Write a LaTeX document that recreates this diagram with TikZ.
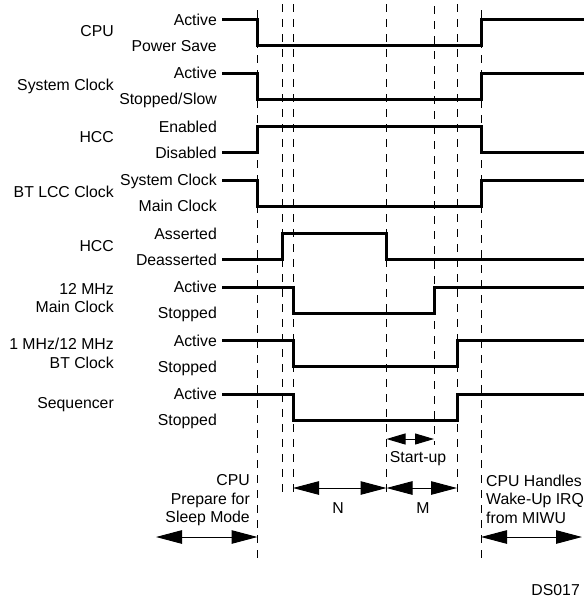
\documentclass[tikz,border=0pt]{standalone}
\usepackage{fontspec}
\setmainfont{Liberation Sans}
\usetikzlibrary{arrows.meta}

\begin{document}
\begin{tikzpicture}[x=1pt, y=-1pt,
    font=\fontsize{15.8}{18.5}\selectfont,
    sig/.style={line width=3pt, line join=miter},
    guide/.style={line width=0.9pt, dash pattern=on 8pt off 7pt},
    lab/.style={inner sep=0pt, text height=11.3pt, text depth=0pt},
    sname/.style={lab, anchor=east},
    level/.style={lab, anchor=east, inner xsep=5pt},
    note/.style={inner sep=0pt},
    span/.style={{Triangle[length=26pt,width=13.5pt]}-{Triangle[length=26pt,width=13.5pt]}, line width=1pt},
    short span/.style={{Triangle[length=19pt,width=11pt]}-{Triangle[length=19pt,width=11pt]}, line width=1pt}]
    \useasboundingbox (0,0) rectangle (584,598);

    % Zeitpunkte
    \coordinate (t1) at (257.5,0);
    \coordinate (t2) at (282,0);
    \coordinate (t3) at (293,0);
    \coordinate (t4) at (386.5,0);
    \coordinate (t5) at (434,0);
    \coordinate (t6) at (457,0);
    \coordinate (t7) at (481,0);
    \coordinate (edge) at (590,0);

    % gestrichelte Hilfslinien
    \foreach \t/\a/\b in {t1/10/560, t2/4/494, t3/4/494, t4/4/494, t5/6/445, t6/4/494, t7/10/560}
        \draw[guide] (\t |- 0,\a) -- (\t |- 0,\b);

    % CPU
    \node[sname] (cpu) at (114,31) {CPU};
    \node[level] (cpuA) at (222,19.5) {Active};
    \node[level] (cpuP) at (222,45.5) {Power Save};
    \draw[sig] (cpuA.east) -| (t1 |- cpuP.east) -| (t7 |- cpuA.east) -- (edge |- cpuA.east);

    % System Clock
    \node[sname] (sys) at (114,85) {System Clock};
    \node[level] (sysA) at (222,73) {Active};
    \node[level] (sysS) at (222,99) {Stopped/Slow};
    \draw[sig] (sysA.east) -| (t1 |- sysS.east) -| (t7 |- sysA.east) -- (edge |- sysA.east);

    % HCC
    \node[sname] (hcc) at (114,137) {HCC};
    \node[level] (hccE) at (222,126.5) {Enabled};
    \node[level] (hccD) at (222,152.5) {Disabled};
    \draw[sig] (hccD.east) -| (t1 |- hccE.east) -| (t7 |- hccD.east) -- (edge |- hccD.east);

    % BT LCC Clock
    \node[sname] (lcc) at (114,191.5) {BT LCC Clock};
    \node[level] (lccS) at (222,180) {System Clock};
    \node[level] (lccM) at (222,206) {Main Clock};
    \draw[sig] (lccS.east) -| (t1 |- lccM.east) -| (t7 |- lccS.east) -- (edge |- lccS.east);

    % HCC (Asserted)
    \node[sname] (hcc2) at (114,245.5) {HCC};
    \node[level] (hcc2A) at (222,233.5) {Asserted};
    \node[level] (hcc2D) at (222,259.5) {Deasserted};
    \draw[sig] (hcc2D.east) -| (t2 |- hcc2A.east) -| (t4 |- hcc2D.east) -- (edge |- hcc2D.east);

    % 12 MHz Main Clock
    \node[note, anchor=east, align=right] (main) at (114,298) {12 MHz\\Main Clock};
    \node[level] (mainA) at (222,287) {Active};
    \node[level] (mainS) at (222,313) {Stopped};
    \draw[sig] (mainA.east) -| (t3 |- mainS.east) -| (t5 |- mainA.east) -- (edge |- mainA.east);

    % 1 MHz/12 MHz BT Clock
    \node[note, anchor=east, align=right] (btclk) at (114,353.5) {1 MHz/12 MHz\\BT Clock};
    \node[level] (btclkA) at (222,340.5) {Active};
    \node[level] (btclkS) at (222,366.5) {Stopped};
    \draw[sig] (btclkA.east) -| (t3 |- btclkS.east) -| (t6 |- btclkA.east) -- (edge |- btclkA.east);

    % Sequencer
    \node[sname] (seq) at (114,403) {Sequencer};
    \node[level] (seqA) at (222,394) {Active};
    \node[level] (seqS) at (222,420) {Stopped};
    \draw[sig] (seqA.east) -| (t3 |- seqS.east) -| (t6 |- seqA.east) -- (edge |- seqA.east);

    % Zeitabschnitte
    \draw[short span] (t4 |- 0,439) -- (t5 |- 0,439);
    \node[lab] (startup) at (418,457) {Start-up};
    \draw[span] (t3 |- 0,488) -- (t4 |- 0,488);
    \node[lab] (n) at (338,508) {N};
    \draw[span] (t4 |- 0,488) -- (t6 |- 0,488);
    \node[lab] (m) at (423,508) {M};

    \node[note, anchor=east, align=right] (prep) at (250,500.6) {CPU\\Prepare for\\Sleep Mode};
    \draw[span] (156,537) -- (t1 |- 0,537);
    \node[note, anchor=west, align=left] (wake) at (486,499) {CPU Handles\\Wake-Up IRQ\\from MIWU};
    \draw[span] (t7 |- 0,537) -- (582,537);

    \node[lab, anchor=east] (ds) at (580,589.5) {DS017};
\end{tikzpicture}
\end{document}
